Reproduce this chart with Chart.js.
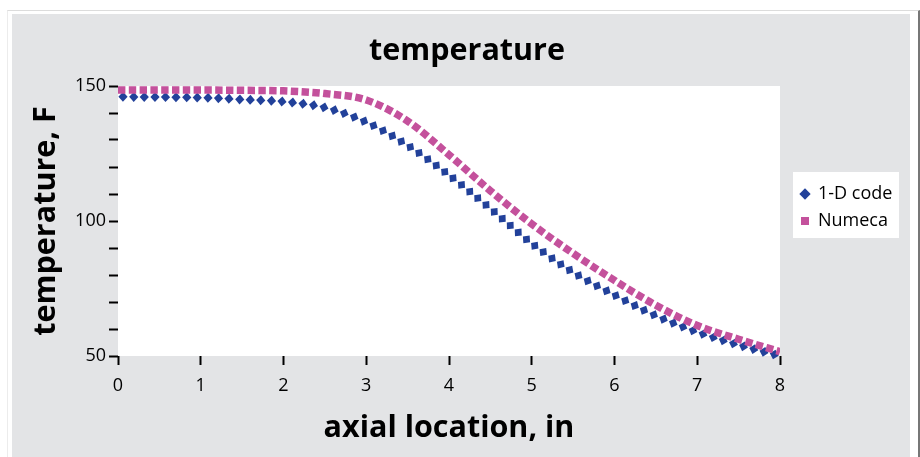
<!DOCTYPE html>
<html>
<head>
<meta charset="utf-8">
<script src="https://cdn.jsdelivr.net/npm/chart.js@4/dist/chart.umd.min.js"></script>
<style>
  body { margin: 0; background: #ffffff; }
  #frame { position: absolute; left: 7px; top: 10px; width: 910px; height: 460px;
           border-top: 1px solid #dcdcdc; border-left: 1px solid #ececec; border-right: 2px solid #777777; }
  #panel { position: absolute; left: 12px; top: 14px; width: 898px; height: 443px; background: #e3e4e6; }
  #chart { position: absolute; left: 0; top: 0; }
</style>
</head>
<body>
<div id="frame"></div>
<div id="panel"><canvas id="chart" width="898" height="443"></canvas></div>
<script>
// axial location, in
var positions = [0, 0.5, 1, 1.5, 2, 2.5, 3, 3.5, 4, 4.5, 5, 5.5, 6, 6.5, 7, 7.5, 8];
// temperature, F
var codeTemps   = [146.0, 145.9, 145.7, 145.0, 144.2, 142.0, 136.6, 128.0, 117.0, 104.6, 91.7, 81.0, 72.6, 64.9, 58.9, 54.1, 50.0];
var numecaTemps = [148.5, 148.5, 148.5, 148.4, 148.2, 147.2, 144.8, 137.0, 124.5, 111.2, 98.9, 88.0, 78.0, 68.8, 61.3, 56.2, 51.6];
var seriesNames = ['1-D code', 'Numeca'];
var xTicks = [0, 1, 2, 3, 4, 5, 6, 7, 8];
var yTickLabels = [50, 100, 150];

var blue = '#22419a';
var pink = '#c4519c';
var family = "'Open Sans', sans-serif";

function points(values) {
  return positions.map(function (x, i) { return {x: x, y: values[i]}; });
}

// white plot area + legend box; title and legend placed like the original
var backdrop = {
  id: 'backdrop',
  afterLayout: function (chart) {
    var l = chart.legend, a = chart.chartArea, t = chart.titleBlock;
    l.left = a.right + 12;
    l.right = l.left + l.width;
    l.top = a.top + 90;
    l.bottom = l.top + 80;
    t.left = 0;
    t.right = 910;
    t.width = 910;
  },
  beforeDraw: function (chart) {
    var ctx = chart.ctx, a = chart.chartArea, l = chart.legend;
    ctx.save();
    ctx.fillStyle = '#ffffff';
    ctx.fillRect(a.left, a.top, a.right - a.left, a.bottom - a.top);
    ctx.fillRect(l.left + 1, l.top - 4, 106, 66);
    ctx.restore();
  }
};

// the 1-D code curve is drawn as a trail of diamonds along the line
var diamondTrail = {
  id: 'diamondTrail',
  beforeDatasetsDraw: function (chart) {
    var meta = chart.getDatasetMeta(0);
    var line = meta.dataset, pts = meta.data;
    var ctx = chart.ctx;
    var step = 10.6, along = 4.6, across = 5.0;
    line.updateControlPoints(chart.chartArea, 'x');
    var prev = {x: pts[0].x, y: pts[0].y};
    var run = step - 5;
    var end = pts[pts.length - 1].x;
    ctx.save();
    ctx.fillStyle = blue;
    for (var px = prev.x + 0.25; px < end; px += 0.25) {
      var p = line.interpolate({x: px}, 'x');
      if (!p || Array.isArray(p)) continue;
      var dx = p.x - prev.x, dy = p.y - prev.y;
      run += Math.sqrt(dx * dx + dy * dy);
      if (run >= step) {
        run -= step;
        ctx.save();
        ctx.translate(p.x, p.y);
        ctx.rotate(Math.atan2(dy, dx));
        ctx.beginPath();
        ctx.moveTo(-along, 0);
        ctx.lineTo(0, -across);
        ctx.lineTo(along, 0);
        ctx.lineTo(0, across);
        ctx.closePath();
        ctx.fill();
        ctx.restore();
      }
      prev = p;
    }
    ctx.restore();
  }
};

var ctx = document.getElementById('chart').getContext('2d');

var chartInstance = new Chart(ctx, {
  type: 'line',
  data: {
    datasets: [{
      label: seriesNames[0],
      data: points(codeTemps),
      borderColor: blue,
      backgroundColor: blue,
      borderWidth: 0,
      pointStyle: 'rectRot',
      pointRadius: 0,
      cubicInterpolationMode: 'monotone'
    }, {
      label: seriesNames[1],
      data: points(numecaTemps),
      borderColor: pink,
      backgroundColor: pink,
      borderWidth: 7.5,
      borderDash: [7.4, 3.4],
      borderCapStyle: 'butt',
      pointStyle: 'rect',
      pointRadius: 0,
      cubicInterpolationMode: 'monotone'
    }]
  },
  options: {
    responsive: false,
    animation: false,
    layout: { padding: { left: 0, right: 130, top: 0, bottom: 0 } },
    plugins: {
      title: {
        display: true,
        text: 'temperature',
        color: '#000',
        font: { family: family, size: 30.5, weight: 'bold' },
        padding: { top: 18.7, bottom: 16.7 }
      },
      legend: {
        position: 'chartArea',
        align: 'start',
        labels: {
          usePointStyle: true,
          boxWidth: 8,
          boxHeight: 8,
          padding: 9,
          color: '#000',
          font: { family: family, size: 18 },
          generateLabels: function (chart) {
            var items = Chart.defaults.plugins.legend.labels.generateLabels(chart);
            items.forEach(function (it) { it.lineWidth = 0; });
            return items;
          }
        }
      },
      tooltip: { enabled: false }
    },
    scales: {
      x: {
        type: 'linear',
        min: 0,
        max: 8,
        afterFit: function (scale) { scale.height = 101; },
        afterBuildTicks: function (scale) {
          scale.ticks = xTicks.map(function (v) { return {value: v}; });
        },
        border: { display: false },
        grid: { drawOnChartArea: false, drawTicks: true, tickLength: 9, tickWidth: 2, tickColor: '#000' },
        ticks: { color: '#000', padding: 10, font: { family: family, size: 18 } },
        title: {
          display: true,
          text: 'axial location, in',
          color: '#000',
          font: { family: family, size: 30.5, weight: 'bold' },
          padding: { top: 0, bottom: 10.7 }
        }
      },
      y: {
        min: 50,
        max: 150,
        afterFit: function (scale) { scale.width = 106; },
        border: { display: false },
        grid: { drawOnChartArea: false, drawTicks: true, tickLength: 9, tickWidth: 2, tickColor: '#000' },
        ticks: {
          stepSize: 10,
          color: '#000',
          padding: 3,
          font: { family: family, size: 18 },
          callback: function (v) { return yTickLabels.indexOf(v) >= 0 ? String(v) : ''; }
        },
        title: {
          display: true,
          text: 'temperature, F',
          color: '#000',
          font: { family: family, size: 30.5, weight: 'bold' },
          padding: { top: 15.7, bottom: 0 }
        }
      }
    }
  },
  plugins: [backdrop, diamondTrail]
});
</script>
</body>
</html>
